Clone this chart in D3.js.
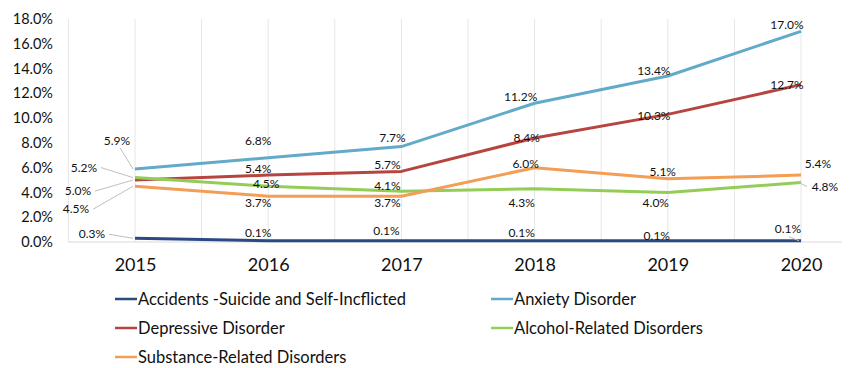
<!DOCTYPE html>
<html>
<head>
<meta charset="utf-8">
<script src="https://cdn.jsdelivr.net/npm/d3@7"></script>
<style>
  body { margin: 0; background: #fff; }
  text { font-family: Lato, "Open Sans", sans-serif; fill: #111; }
</style>
</head>
<body>
<script>
// data
var years = ["2015", "2016", "2017", "2018", "2019", "2020"];
var seriesNames = ["Accidents -Suicide and Self-Incflicted", "Anxiety Disorder", "Depressive Disorder",
                   "Alcohol-Related Disorders", "Substance-Related Disorders"];
var accidents  = [0.3, 0.1, 0.1, 0.1, 0.1, 0.1];
var anxiety    = [5.9, 6.8, 7.7, 11.2, 13.4, 17.0];
var depressive = [5.0, 5.4, 5.7, 8.4, 10.3, 12.7];
var alcohol    = [5.2, 4.5, 4.1, 4.3, 4.0, 4.8];
var substance  = [4.5, 3.7, 3.7, 6.0, 5.1, 5.4];
var yTicks = [0, 2, 4, 6, 8, 10, 12, 14, 16, 18];

var colors = ["#2a4a82", "#62aac9", "#b7453f", "#94cc58", "#f39d55"];
var allSeries = [accidents, anxiety, depressive, alcohol, substance];

// label offsets (px) from each point, per series, per year; lead = draw a leader line
var labelPos = [
  [[-43, -4, 1], [-10, -8], [-15, -10], [-13, -8], [-11, -5], [-13, -12, 1]],
  [[-18, -28, 1], [-10, -17], [-9, -9], [-14, -6], [-14, -5], [-14, -7]],
  [[-57, 11, 1], [-10, -6], [-14, -7], [-8, 0], [-14, 1], [-14, 0]],
  [[-51, -10, 1], [-2, -2], [-14, -5], [-13, 14], [-12, 10], [24, 4, 1]],
  [[-59, 23, 1], [-10, 7], [-14, 7], [-9, -4], [-5, -7], [17, -11]]
];

var width = 850, height = 368;
var svg = d3.select("body").append("svg").attr("width", width).attr("height", height);

var x = d3.scalePoint().domain(years).range([135, 801]);
var y = d3.scaleLinear().domain([0, 18]).range([242, 19]);

// vertical gridlines every half category
var step = x.step() / 2;
var gridXs = d3.range(0, 13).map(function(i) { return 135 - step + i * step; });
svg.append("g").selectAll("line").data(gridXs).enter().append("line")
  .attr("x1", function(d) { return d; }).attr("x2", function(d) { return d; })
  .attr("y1", y(18)).attr("y2", y(0))
  .attr("stroke", "#e6e6e6").attr("stroke-width", 1);

// x axis baseline
svg.append("line").attr("x1", 68).attr("x2", 842).attr("y1", y(0)).attr("y2", y(0))
  .attr("stroke", "#d9d9d9").attr("stroke-width", 1);

// y axis labels
var yAxis = d3.axisLeft(y).tickValues(yTicks).tickSize(0).tickPadding(0)
  .tickFormat(function(d) { return d.toFixed(1) + "%"; });
var yg = svg.append("g").attr("transform", "translate(53,0)").call(yAxis);
yg.select(".domain").remove();
yg.selectAll("text").style("font-size", "14.5px").style("font-family", "Lato, sans-serif").attr("fill", "#111");

// x axis labels
var xAxis = d3.axisBottom(x).tickSize(0).tickPadding(0);
var xg = svg.append("g").attr("transform", "translate(0,258)").call(xAxis);
xg.select(".domain").remove();
xg.selectAll("text").style("font-size", "18px").style("font-family", "Lato, sans-serif").attr("fill", "#111");

var line = d3.line()
  .x(function(d, i) { return x(years[i]); })
  .y(function(d) { return y(d); });

allSeries.forEach(function(vals, s) {
  svg.append("path").attr("d", line(vals))
    .attr("fill", "none").attr("stroke", colors[s]).attr("stroke-width", 3)
    .attr("stroke-linejoin", "round");
});

// data labels
allSeries.forEach(function(vals, s) {
  vals.forEach(function(v, i) {
    var px = x(years[i]), py = y(v);
    var off = labelPos[s][i];
    var lx = px + off[0], ly = py + off[1];
    if (off[2]) {
      var ex = off[0] < 0 ? lx + 17 : lx - 18;
      var ey = ly;
      if (s == 1 && i == 0) { ex = lx + 3; ey = ly + 7; }
      if (s == 0 && i == 5) { ex = lx + 1; ey = ly + 8; }
      svg.append("line").attr("x1", ex).attr("y1", ey).attr("x2", px - 2).attr("y2", py)
        .attr("stroke", "#bfbfbf").attr("stroke-width", 1);
    }
    svg.append("text").attr("x", lx).attr("y", ly).attr("dy", "0.35em")
      .attr("text-anchor", "middle").style("font-size", "12px")
      .text(v.toFixed(1) + "%");
  });
});

// legend
var legPos = [[115, 299], [491, 299], [115, 328], [491, 328], [115, 357]];
seriesNames.forEach(function(name, s) {
  var g = svg.append("g").attr("transform", "translate(" + legPos[s][0] + "," + legPos[s][1] + ")");
  g.append("line").attr("x1", 0).attr("x2", 22).attr("y1", 0).attr("y2", 0)
    .attr("stroke", colors[s]).attr("stroke-width", 2.5);
  g.append("text").attr("x", 23).attr("dy", "0.35em").style("font-size", "16.5px").text(name);
});
</script>
</body>
</html>
